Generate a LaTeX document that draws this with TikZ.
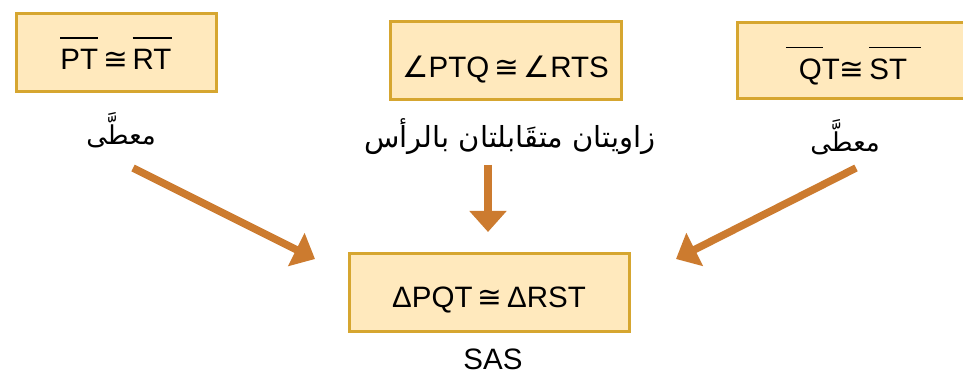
\documentclass[tikz,border=0pt]{standalone}
\usepackage{fontspec}
\setmainfont{Liberation Sans}
\newfontfamily\symfont{DejaVu Sans}
\newfontfamily\arabicfont[Script=Arabic]{DejaVu Sans}
\TeXXeTstate=1
\usetikzlibrary{arrows.meta}

\definecolor{boxfill}{HTML}{FFE9BD}
\definecolor{boxedge}{HTML}{D6A630}
\definecolor{arrowc}{HTML}{CC7B2F}

% segment name with a bar above it: shift, extra bar length, letters
\newcommand\segbar[3]{\setbox0=\hbox{#3}\leavevmode
  \rlap{\kern#1\raisebox{\dimexpr\ht0+11pt\relax}{\rule{\dimexpr\wd0+#2\relax}{1.7pt}}}\box0}
\newcommand\congsym{{\symfont\char"2245}}
\newcommand\anglesym{{\symfont\char"2220}}

\tikzset{
  stmt/.style={draw=boxedge, fill=boxfill, line width=3pt, inner sep=0pt,
    font=\fontsize{29.5}{34}\selectfont, text depth=0pt},
  reason/.style={font=\arabicfont\fontsize{26}{30}\selectfont, inner sep=0pt},
  flow/.style={arrowc, line width=7.5pt, -{Triangle[length=21pt,width=36pt]}},
}

\begin{document}
\begin{tikzpicture}[x=1pt,y=-1pt]
\clip (0,0) rectangle (963,379);
\fill[white] (0,0) rectangle (963,379);

% statements
\node[stmt, minimum width=200pt, minimum height=78pt, text height=34pt] (s1) at (116,53)
  {\segbar{0pt}{0pt}{PT}\,\congsym\,\segbar{0pt}{0pt}{RT}};
\node[stmt, minimum width=231pt, minimum height=78pt, text height=34pt] (s2) at (505.5,61)
  {\anglesym PTQ\,\congsym\,\anglesym RTS};
\node[stmt, minimum width=232pt, minimum height=76pt, text height=38pt] (s3) at (853,61)
  {\segbar{-13pt}{-4pt}{QT}\congsym\,\segbar{0pt}{14pt}{ST}};
\node[stmt, minimum width=280pt, minimum height=77pt, text height=29pt] (s4) at (489,292.5)
  {ΔPQT\,\congsym\,ΔRST};

% reasons
\node[reason] (r1) at (121,130) {\beginR معطَّى\endR};
\node[reason, font=\arabicfont\fontsize{29}{32}\selectfont] (r2) at (510,137) {\beginR زاويتان متقَابلتان بالرأس\endR};
\node[reason] (r3) at (845,137) {\beginR معطَّى\endR};
\node[font=\fontsize{29.5}{34}\selectfont, inner sep=0pt] (sas) at (493,359) {SAS};

% arrows towards the conclusion
\coordinate (a1s) at (133,168);
\coordinate (a1e) at (315,259);
\coordinate (a2s) at (488,165);
\coordinate (a2e) at (488,232);
\coordinate (a3s) at (856,168);
\coordinate (a3e) at (676,259);
\draw[flow] (a1s) -- (a1e);
\draw[flow] (a2s) -- (a2e);
\draw[flow] (a3s) -- (a3e);
\end{tikzpicture}
\end{document}
